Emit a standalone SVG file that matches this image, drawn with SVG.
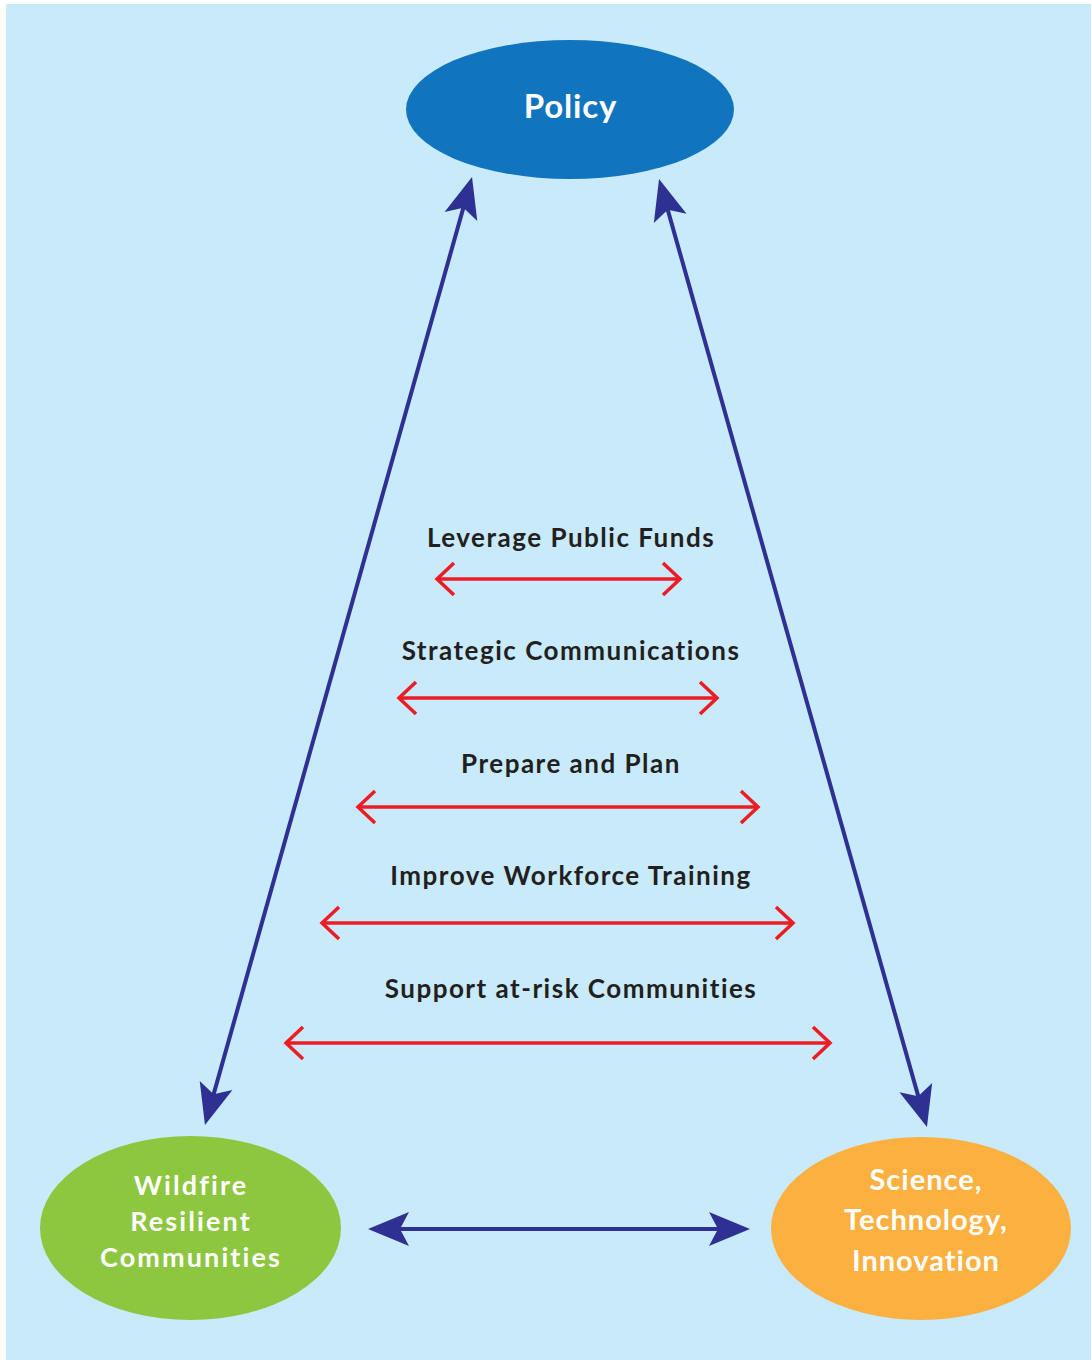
<svg xmlns="http://www.w3.org/2000/svg" width="1091" height="1360" viewBox="0 0 1091 1360">
  <style>
    .label { font-family: Lato, "Open Sans", "Liberation Sans", sans-serif; font-weight: bold; font-size: 26px; letter-spacing: 1.5px; fill: #231F20; text-anchor: middle; }
    .node-text { font-family: Lato, "Open Sans", "Liberation Sans", sans-serif; font-weight: bold; fill: #FFFFFF; text-anchor: middle; }
    .blue-link { stroke: #2E3192; stroke-width: 4; fill: none; }
    .red-link { stroke: #ED1C24; stroke-width: 3.5; fill: none; }
  </style>
  <defs>
    <!-- solid swept-back head, tip sits 30px beyond the path end -->
    <marker id="blueHead" markerUnits="userSpaceOnUse" markerWidth="50" markerHeight="40" viewBox="-45 -20 50 40" refX="-30" refY="0" orient="auto-start-reverse">
      <path d="M0,0 L-41,-17 L-32,0 L-41,17 Z" fill="#2E3192"/>
    </marker>
    <!-- open chevron head -->
    <marker id="redHead" markerUnits="userSpaceOnUse" markerWidth="30" markerHeight="40" viewBox="-24 -20 30 40" refX="0" refY="0" orient="auto-start-reverse">
      <path d="M-17,-16 L0,0 L-17,16" fill="none" stroke="#ED1C24" stroke-width="3.5"/>
    </marker>
  </defs>

  <!-- panel -->
  <rect x="6" y="4" width="1085" height="1356" fill="#C8EAFA"/>

  <g id="connectors">
    <line class="blue-link" x1="463.9" y1="205.9" x2="213.1" y2="1096.1" marker-start="url(#blueHead)" marker-end="url(#blueHead)"/>
    <line class="blue-link" x1="667.2" y1="207.9" x2="918.8" y2="1098.1" marker-start="url(#blueHead)" marker-end="url(#blueHead)"/>
    <line class="blue-link" x1="398" y1="1229" x2="720" y2="1229" stroke-width="5" marker-start="url(#blueHead)" marker-end="url(#blueHead)"/>

    <line class="red-link" x1="437" y1="579" x2="680" y2="579" marker-start="url(#redHead)" marker-end="url(#redHead)"/>
    <line class="red-link" x1="399" y1="698" x2="717" y2="698" marker-start="url(#redHead)" marker-end="url(#redHead)"/>
    <line class="red-link" x1="358" y1="807" x2="758" y2="807" marker-start="url(#redHead)" marker-end="url(#redHead)"/>
    <line class="red-link" x1="322" y1="923" x2="793" y2="923" marker-start="url(#redHead)" marker-end="url(#redHead)"/>
    <line class="red-link" x1="286" y1="1043" x2="830" y2="1043" marker-start="url(#redHead)" marker-end="url(#redHead)"/>
  </g>

  <g id="labels">
    <text class="label" x="571" y="547">Leverage Public Funds</text>
    <text class="label" x="571" y="660">Strategic Communications</text>
    <text class="label" x="571" y="773">Prepare and Plan</text>
    <text class="label" x="571" y="885">Improve Workforce Training</text>
    <text class="label" x="571" y="998">Support at-risk Communities</text>
  </g>

  <g id="policy">
    <ellipse cx="570" cy="109.5" rx="164" ry="69.5" fill="#1174BE"/>
    <text class="node-text" x="570.5" y="118" font-size="33" letter-spacing="0.8">Policy</text>
  </g>

  <g id="wildfire-resilient-communities">
    <ellipse cx="190.5" cy="1228" rx="150.5" ry="92" fill="#8DC63F"/>
    <text class="node-text" x="191" y="1195" font-size="27" letter-spacing="2.1">Wildfire</text>
    <text class="node-text" x="191" y="1231" font-size="27" letter-spacing="2.1">Resilient</text>
    <text class="node-text" x="191" y="1267" font-size="27" letter-spacing="2.1">Communities</text>
  </g>

  <g id="science-technology-innovation">
    <ellipse cx="921" cy="1228.5" rx="150" ry="91.5" fill="#FBB040"/>
    <text class="node-text" x="926" y="1190" font-size="29" letter-spacing="1">Science,</text>
    <text class="node-text" x="926" y="1230" font-size="29" letter-spacing="1">Technology,</text>
    <text class="node-text" x="926" y="1271" font-size="29" letter-spacing="1">Innovation</text>
  </g>
</svg>
